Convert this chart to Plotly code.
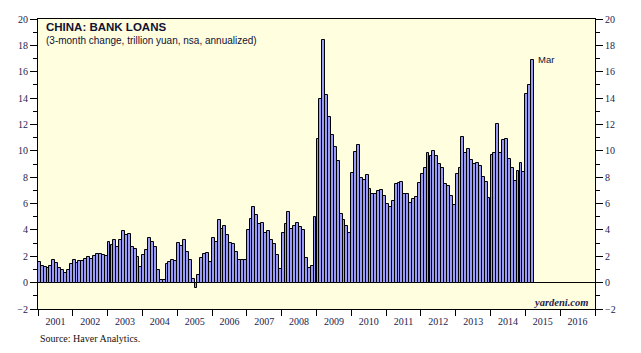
import pandas as pd
import plotly.graph_objects as go

# monthly values, 3-month change in bank loans, trillion yuan annualized
v2001 = [1.60, 1.27, 1.19, 1.14, 1.27, 1.68, 1.47, 1.14, 0.99, 0.76, 0.96, 1.40]
v2002 = [1.68, 1.46, 1.61, 1.61, 1.83, 1.98, 1.83, 2.05, 2.15, 2.15, 2.07, 2.00]
v2003 = [3.06, 2.84, 3.27, 2.74, 3.27, 3.88, 3.60, 3.69, 2.73, 2.58, 1.92, 1.22]
v2004 = [2.06, 2.44, 3.35, 3.12, 2.74, 0.99, 0.23, 0.23, 1.45, 1.55, 1.68, 1.61]
v2005 = [2.97, 2.77, 3.27, 2.36, 1.68, 0.30, -0.38, 0.61, 1.90, 2.16, 2.28, 1.55]
v2006 = [3.37, 3.06, 4.72, 4.10, 4.26, 3.58, 2.98, 2.92, 2.31, 1.75, 1.75, 1.68]
v2007 = [3.97, 4.80, 5.71, 5.10, 4.44, 4.49, 3.73, 3.95, 3.27, 2.90, 2.06, 1.07]
v2008 = [3.73, 4.42, 5.33, 4.04, 4.26, 4.49, 4.20, 4.00, 1.90, 1.14, 1.23, 4.95]
v2009 = [10.90, 13.90, 18.40, 14.20, 12.60, 11.20, 10.30, 9.20, 5.20, 4.72, 4.26, 3.74]
v2010 = [8.30, 9.90, 10.43, 7.92, 7.77, 8.15, 7.13, 6.70, 6.70, 6.93, 7.00, 6.55]
v2011 = [5.93, 5.76, 6.22, 7.46, 7.54, 7.66, 6.70, 6.70, 6.02, 6.37, 6.47, 7.54]
v2012 = [8.27, 8.68, 9.82, 9.62, 9.97, 9.60, 8.98, 8.68, 7.46, 7.30, 6.60, 5.92]
v2013 = [8.23, 8.67, 11.04, 9.87, 10.13, 9.29, 8.98, 9.11, 8.83, 8.02, 7.66, 6.45]
v2014 = [9.67, 9.82, 12.03, 9.87, 10.81, 10.89, 9.37, 8.68, 7.74, 8.45, 9.06, 8.38]
v2015 = [14.31, 15.00, 16.90]

start_month = "2001-01-01"
last_label = "Mar"
title = "CHINA: BANK LOANS"
subtitle = "(3-month change, trillion yuan, nsa, annualized)"
source = "Source: Haver Analytics."
brand = "yardeni.com"

values = (v2001 + v2002 + v2003 + v2004 + v2005 + v2006 + v2007 + v2008 +
          v2009 + v2010 + v2011 + v2012 + v2013 + v2014 + v2015)
months = pd.date_range(start_month, periods=len(values), freq="MS")
centers = months + pd.Timedelta(days=15.2)
month_ms = 30.44 * 86400000

tick_font = dict(family="Liberation Serif, Times New Roman, serif", size=10, color="#22224d")

fig = go.Figure()
fig.add_trace(go.Bar(
    x=centers, y=values, width=[month_ms] * len(values),
    marker=dict(color="#9a9af7", line=dict(color="black", width=1)),
    showlegend=False, hoverinfo="skip",
))
fig.add_trace(go.Scatter(
    x=centers, y=values, yaxis="y2", mode="lines",
    line=dict(width=0), opacity=0, showlegend=False, hoverinfo="skip",
))

fig.update_layout(
    width=641, height=353,
    margin=dict(l=38, r=46, t=19, b=44),
    paper_bgcolor="white",
    plot_bgcolor="#ffffe0",
    bargap=0,
    xaxis=dict(
        type="date", range=["2001-01-01", "2017-01-01"],
        dtick="M12", tick0="2001-01-01", tickformat="%Y",
        ticklabelmode="period", ticks="outside", ticklen=6, tickcolor="black",
        ticklabelstandoff=-3,
        showgrid=False, showline=True, linecolor="black", linewidth=1, mirror=True,
        tickfont=tick_font, zeroline=False,
    ),
    yaxis=dict(
        range=[-2, 20], dtick=2, tick0=0, ticks="outside", ticklen=7,
        tickcolor="black", showgrid=False, showline=True, linecolor="black",
        linewidth=1, zeroline=True, zerolinecolor="black", zerolinewidth=1,
        tickfont=tick_font,
        minor=dict(dtick=1, ticks="outside", ticklen=4, tickcolor="black", showgrid=False),
    ),
    yaxis2=dict(
        range=[-2, 20], dtick=2, tick0=0, ticks="outside", ticklen=7,
        tickcolor="black", showgrid=False, showline=True, linecolor="black",
        linewidth=1, zeroline=False, overlaying="y", side="right",
        tickfont=tick_font,
        minor=dict(dtick=1, ticks="outside", ticklen=4, tickcolor="black", showgrid=False),
    ),
)

fig.add_annotation(
    xref="paper", yref="paper", x=0.011, y=0.972, xanchor="left", yanchor="middle",
    text="<b>" + title + "</b>", showarrow=False,
    font=dict(family="Liberation Sans, Arial, sans-serif", size=11.5, color="#111133"),
)
fig.add_annotation(
    xref="paper", yref="paper", x=0.011, y=0.926, xanchor="left", yanchor="middle",
    text=subtitle, showarrow=False,
    font=dict(family="Liberation Sans, Arial, sans-serif", size=10, color="#111133"),
)
fig.add_annotation(
    x=centers[-1], y=values[-1], xanchor="left", yanchor="middle", xshift=4,
    text=last_label, showarrow=False,
    font=dict(family="Liberation Sans, Arial, sans-serif", size=9.5, color="#111133"),
)
fig.add_annotation(
    xref="paper", yref="paper", x=0.991, y=0.022, xanchor="right", yanchor="middle",
    text="<b><i>" + brand + "</i></b>", showarrow=False,
    font=dict(family="Liberation Serif, Times New Roman, serif", size=10.5, color="#22224d"),
)
fig.add_annotation(
    xref="paper", yref="paper", x=0.0, y=-0.101, xanchor="left", yanchor="middle",
    text=source, showarrow=False,
    font=dict(family="Liberation Serif, Times New Roman, serif", size=10, color="#111111"),
)

fig.write_html("out.html")
